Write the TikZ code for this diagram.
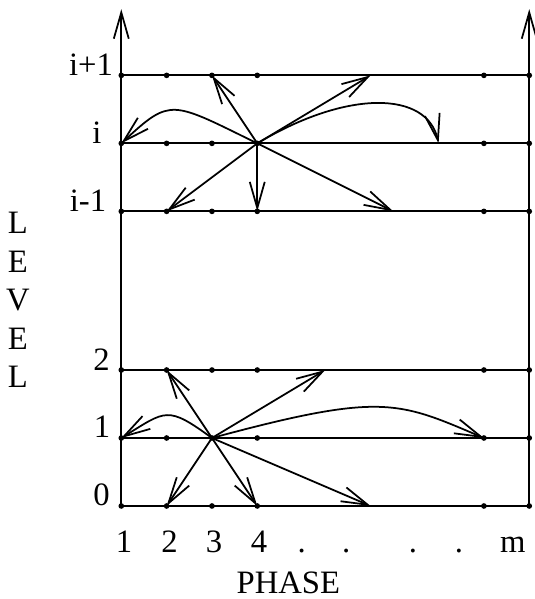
\documentclass[tikz,border=0pt]{standalone}
\usepackage{fontspec}
\setmainfont{Liberation Serif}
\usetikzlibrary{arrows.meta}

\tikzset{
  lbl/.style={font=\fontsize{20.5}{24}\selectfont, inner sep=0pt},
  gridpt/.style={circle, fill, inner sep=0pt, minimum size=1.25mm},
  >={Straight Barb[length=5.8mm,width=3.3mm]},
}

\begin{document}
\begin{tikzpicture}[line width=1.1pt]
  \useasboundingbox (-2.676,-2.052) rectangle (9.127,11.163);

  % grid of levels and phases
  \foreach \lv/\y in {0/0, 1/1.5, 2/3, im/6.5, i/8, ip/9.5} {
    \foreach \ph/\x in {1/0, 2/1, 3/2, 4/3, mm/8, m/9}
      \node[gridpt] (p\ph-\lv) at (\x,\y) {};
    \draw (p1-\lv.center) -- (pm-\lv.center);
  }

  % the two axes
  \coordinate (tl) at (0,10.96);
  \coordinate (tr) at (9,10.96);
  \draw[->] (p1-0.center) -- (tl);
  \draw[->] (pm-0.center) -- (tr);

  % moves out of level i
  \coordinate (ua) at (5.5,9.5);
  \coordinate (ra) at (7,8);
  \coordinate (da) at (6,6.5);
  \draw[->] (p4-i.center) -- (p3-ip.center);
  \draw[->] (p4-i.center) -- (ua);
  \draw[->] (p4-i.center) .. controls (1.1,8.93) and (1.1,9.02) .. (p1-i.center);
  \draw[->] (p4-i.center) .. controls (5,9.2) and (6.75,9.15) .. (ra);
  \draw[->] (p4-i.center) -- (p2-im.center);
  \draw[->] (p4-i.center) -- (p4-im.center);
  \draw[->] (p4-i.center) -- (da);

  % moves out of level 1
  \coordinate (ub) at (4.5,3);
  \coordinate (db) at (5.5,0);
  \draw[->] (p3-1.center) -- (p2-2.center);
  \draw[->] (p3-1.center) -- (ub);
  \draw[->] (p3-1.center) .. controls (1.01,2.22) and (0.99,2.11) .. (p1-1.center);
  \draw[->] (p3-1.center) .. controls (5.74,2.51) and (6.1,2.31) .. (pmm-1.center);
  \draw[->] (p3-1.center) -- (p2-0.center);
  \draw[->] (p3-1.center) -- (p4-0.center);
  \draw[->] (p3-1.center) -- (db);

  % level labels
  \node[lbl, anchor=base] (lip) at (-0.668,9.5) {i+1};
  \node[lbl, anchor=base] (li) at (-0.536,8) {i};
  \node[lbl, anchor=base] (lim) at (-0.735,6.5) {i-1};
  \node[lbl, anchor=base] (l2) at (-0.437,3) {2};
  \node[lbl, anchor=base] (l1) at (-0.426,1.5) {1};
  \node[lbl, anchor=base] (l0) at (-0.437,0) {0};

  % phase labels
  \foreach \t/\x [count=\k] in {1/0.06, 2/1.063, 3/2.045, 4/3.04,
      ./3.98, ./4.96, ./6.435, ./7.45, m/8.64}
    \node[lbl, anchor=base] (ph\k) at (\x,-1.037) {\t};

  % axis titles
  \foreach \ch [count=\k] in {L,E,V,E,L}
    \node[lbl] (lev\k) at (-2.28,{6.243-0.849*(\k-1)}) {\ch};
  \node[lbl, anchor=base] (phase) at (3.686,-1.92) {PHASE};
\end{tikzpicture}
\end{document}
